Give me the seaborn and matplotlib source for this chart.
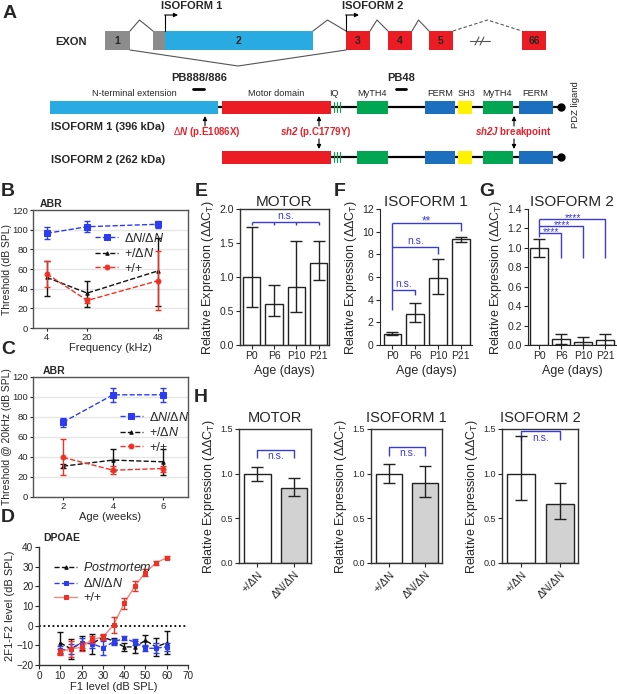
import numpy as np
import pandas as pd
import matplotlib
matplotlib.use("Agg")
import matplotlib.pyplot as plt
import seaborn as sns
from matplotlib.patches import Rectangle

sns.set_style("ticks")
plt.rcParams['font.family'] = ['Liberation Sans', 'DejaVu Sans']
plt.rcParams['mathtext.fontset'] = 'custom'
plt.rcParams['mathtext.rm'] = 'Liberation Sans'
plt.rcParams['mathtext.it'] = 'Liberation Sans:italic'
plt.rcParams['mathtext.bf'] = 'Liberation Sans:bold:italic'

# ---------------- data ----------------
# Panel B: ABR threshold vs frequency
b_freq = [4, 20, 48]
b_dn = [96.3, 103.0, 105.5]; b_dn_lo = [90.3, 97.4, 102.0]; b_dn_hi = [102.4, 108.9, 109.2]
b_het = [51.4, 35.5, 58.0]; b_het_lo = [32.8, 21.3, 22.6]; b_het_hi = [68.0, 48.0, 91.3]
b_wt = [55.0, 28.0, 48.0]; b_wt_lo = [41.2, 25.0, 18.6]; b_wt_hi = [68.3, 31.0, 78.8]

# Panel C: ABR threshold @20kHz vs age
c_age = [2, 4, 6]
c_dn = [74.8, 102.2, 102.2]; c_dn_lo = [70.4, 95.5, 95.5]; c_dn_hi = [78.8, 109.0, 109.0]
c_het = [30.8, 36.9, 35.2]; c_het_lo = [29.0, 26.0, 21.8]; c_het_hi = [33.0, 47.6, 48.0]
c_wt = [39.6, 26.8, 28.5]; c_wt_lo = [21.8, 22.8, 25.0]; c_wt_hi = [57.7, 30.8, 31.5]

# Panel D: DPOAE
d_f1 = [10, 15, 20, 25, 30, 35, 40, 45, 50, 55, 60]
d_pm = [-8.7, -11.8, -8.7, -9.2, -5.8, -7.8, -10.8, -10.8, -7.5, -10.8, -8.7]
d_pm_err = [5.3, 5.0, 3.5, 5.0, 1.2, 1.5, 2.1, 3.1, 2.7, 4.5, 5.8]
d_dn = [-12.5, -11.7, -8.7, -9.2, -11.2, -8.3, -6.5, -8.3, -11.5, -11.5, -10.7]
d_dn_err = [2.0, 2.5, 2.5, 2.0, 3.5, 1.5, 1.0, 1.5, 1.5, 2.5, 2.0]
d_wt = [-13.3, -11.8, -11.0, -7.0, -5.8, 0.3, 11.3, 20.1, 27.0, 31.9, 34.6]
d_wt_err = [1.5, 4.0, 2.0, 2.0, 1.5, 3.9, 3.0, 2.5, 1.7, 1.1, 0.85]

# Panels E-G: qPCR vs age
ages = ["P0", "P6", "P10", "P21"]
e_val = [1.0, 0.61, 0.86, 1.21]; e_lo = [0.56, 0.42, 0.48, 0.95]; e_hi = [1.73, 0.88, 1.53, 1.53]
f_val = [1.0, 2.73, 5.87, 9.33]; f_lo = [0.88, 1.99, 4.5, 9.13]; f_hi = [1.12, 3.7, 7.6, 9.54]
g_val = [1.0, 0.06, 0.035, 0.05]; g_lo = [0.91, 0.01, 0.0, 0.0]; g_hi = [1.09, 0.11, 0.08, 0.11]

# Panel H: qPCR by genotype
genos = ["+/\u0394N", "\u0394N/\u0394N"]
h_titles = ["MOTOR", "ISOFORM 1", "ISOFORM 2"]
h_val = [[1.0, 0.84], [1.0, 0.90], [1.0, 0.66]]
h_lo = [[0.92, 0.75], [0.89, 0.74], [0.70, 0.49]]
h_hi = [[1.08, 0.95], [1.11, 1.09], [1.42, 0.90]]

# Panel A schematic (gene / protein layout, drawn in pixel space)
exon_names = ["1", "", "2", "3", "4", "5", "66"]
exon_start = [105, 153, 165, 346, 388, 429, 522]
exon_end = [130, 165, 313, 370, 412, 453, 546]
dom_names = ["N-terminal extension", "Motor domain", "MyTH4", "FERM", "SH3", "MyTH4", "FERM"]
dom_start = [50, 222, 357, 425, 458, 483, 519]
dom_end = [218, 331, 388, 455, 472, 513, 553]

# ---------------- figure ----------------
W, H = 617, 694
fig = plt.figure(figsize=(W / 100, H / 100), dpi=100)
fig.patch.set_facecolor("white")

def add_ax(l, t, r, b):
    return fig.add_axes([l / W, 1 - b / H, (r - l) / W, (b - t) / H])

def ftext(x, y, s, **kw):
    fig.text(x / W, 1 - y / H, s, **kw)

BLUE = "#2b3cf2"
RED = "#ee3124"
BRK = "#3a3ad8"
LAB = dict(fontsize=14, fontweight="bold", va="center", ha="left")

# ================= Panel A =================
axA = add_ax(0, 0, W, 195)
axA.set_xlim(0, W); axA.set_ylim(195, 0); axA.axis("off")
ex_col = ["#8c8c8c", "#8c8c8c", "#29abe2", "#ec1c24", "#ec1c24", "#ec1c24", "#ec1c24"]
ey0, ey1 = 31, 50
for nm, s, e, c in zip(exon_names, exon_start, exon_end, ex_col):
    axA.add_patch(Rectangle((s, ey0), e - s, ey1 - ey0, facecolor=c, edgecolor="none"))
    if nm:
        axA.text((s + e) / 2, (ey0 + ey1) / 2 + 0.5, nm, ha="center", va="center", fontsize=7.5, fontweight="bold")
gl = dict(color="#555555", lw=0.8)
intr = [(exon_end[0], exon_start[1]), (exon_end[2], exon_start[3]), (exon_end[3], exon_start[4]), (exon_end[4], exon_start[5])]
for a, b in intr:
    axA.plot([a, (a + b) / 2 - 2, b], [ey0, 20, ey0], **gl)
axA.plot([exon_end[5], (exon_end[5] + exon_start[6]) / 2, exon_start[6]], [ey0, 20, ey0], color="#555555", lw=0.8, ls=(0, (3, 2)))
axA.plot([exon_end[0], 238, exon_start[3]], [ey1, 66, ey1], **gl)
axA.plot([470, 490], [41, 41], color="#555555", lw=0.8)
for xs in (477, 482):
    axA.plot([xs - 2, xs + 2], [45, 37], color="#555555", lw=0.8)
axA.text(55, 42, "EXON", fontsize=8, fontweight="bold", va="center")
# promoter arrows
for x0, lab in [(exon_start[2], "ISOFORM 1"), (exon_start[3], "ISOFORM 2")]:
    axA.plot([x0, x0], [ey0, 15], color="k", lw=0.8)
    axA.annotate("", xy=(x0 + 13, 15), xytext=(x0 - 0.4, 15),
                 arrowprops=dict(arrowstyle="-|>", lw=0.8, color="k", mutation_scale=6, shrinkA=0, shrinkB=0))
    axA.text(x0 - 4, 6, lab, fontsize=8, fontweight="bold", va="center", ha="left")

dom_col = ["#29abe2", "#ec1c24", "#00a651", "#1c6fbf", "#fff200", "#00a651", "#1c6fbf"]
rows = [(107.5, 0, "ISOFORM 1 (396 kDa)"), (157, 1, "ISOFORM 2 (262 kDa)")]
for yc, first, lab in rows:
    axA.plot([dom_end[0] if first == 0 else dom_end[1], 561], [yc, yc], color="k", lw=1.6, zorder=1)
    for nm, s, e, c in list(zip(dom_names, dom_start, dom_end, dom_col))[first:]:
        axA.add_patch(Rectangle((s, yc - 6.5), e - s, 13, facecolor=c, edgecolor="none", zorder=2))
    for xs in (333.5, 336.5, 339.5):
        axA.plot([xs, xs], [yc - 5, yc + 5], color="#00a651", lw=0.8, zorder=2)
    axA.plot([561], [yc], "o", color="k", ms=5, zorder=3)
    axA.text(51, yc + (20 if first == 0 else 3), lab, fontsize=8, fontweight="bold", va="center")
# domain labels
dl_x = [134, 276, 334, 372, 440, 466, 497, 535]
dl_t = ["N-terminal extension", "Motor domain", "IQ", "MyTH4", "FERM", "SH3", "MyTH4", "FERM"]
for x, t in zip(dl_x, dl_t):
    axA.text(x, 93, t, fontsize=6.6, ha="center", va="center")
axA.text(199, 78, "PB888/886", fontsize=8, fontweight="bold", ha="center", va="center")
axA.plot([193, 204], [89, 89], color="k", lw=2)
axA.text(401, 78, "PB48", fontsize=8, fontweight="bold", ha="center", va="center")
axA.plot([396, 406], [89, 89], color="k", lw=2)
axA.text(576, 105, "PDZ ligand", fontsize=6.8, rotation=90, ha="center", va="center")
ap = dict(arrowstyle="-|>", lw=0.8, color="k", mutation_scale=6, shrinkA=0, shrinkB=0)
for x in (205, 319, 514):
    axA.annotate("", xy=(x, 116), xytext=(x, 126), arrowprops=ap)
for x in (319, 514):
    axA.annotate("", xy=(x, 149), xytext=(x, 139), arrowprops=ap)
RC = "#e8202a"
axA.text(207, 132, r"$\Delta\mathbf{N}$ (p.E1086X)", color=RC, fontsize=7, fontweight="bold", ha="center", va="center")
axA.text(316, 132, r"$\mathbf{sh2}$ (p.C1779Y)", color=RC, fontsize=7, fontweight="bold", ha="center", va="center")
axA.text(513, 132, r"$\mathbf{sh2J}$ breakpoint", color=RC, fontsize=7, fontweight="bold", ha="center", va="center")
ftext(3, 14, "A", **LAB)

# ================= helpers =================
def style_ticks(ax, fs, length=3, pad=1.5):
    ax.tick_params(axis="both", labelsize=fs, length=length, width=0.8, pad=pad, direction="out")

def err(v, lo, hi):
    v, lo, hi = map(np.asarray, (v, lo, hi))
    return [v - lo, hi - v]

def line_panel(ax, x, series, ls_list):
    for (m, lo, hi, col, mk, ms, lab), ls in zip(series, ls_list):
        df = pd.DataFrame({"x": x, "y": m})
        sns.lineplot(data=df, x="x", y="y", ax=ax, color=col, marker=mk, markersize=ms,
                     linestyle=ls, lw=1.0, label=lab, markeredgecolor=col)
        ax.errorbar(x, m, yerr=err(m, lo, hi), fmt="none", ecolor=col, elinewidth=1, capsize=2.5, capthick=1)

def box_spines(ax, col="#555555"):
    for s in ax.spines.values():
        s.set_visible(True); s.set_color(col); s.set_linewidth(1)

# ================= Panel B =================
axB = add_ax(33, 210, 188, 328)
line_panel(axB, b_freq, [
    (b_dn, b_dn_lo, b_dn_hi, BLUE, "s", 4, r"$\Delta N/\Delta N$"),
    (b_het, b_het_lo, b_het_hi, "#111111", "^", 2.5, r"+/$\Delta N$"),
    (b_wt, b_wt_lo, b_wt_hi, RED, "o", 3.5, "+/+")], ["--", "--", "--"])
axB.set_xlim(-1.5, 60); axB.set_ylim(0, 120)
axB.set_xticks(b_freq); axB.set_yticks(range(0, 121, 20))
axB.yaxis.grid(True, color="#e6e6e6", lw=1); axB.set_axisbelow(True)
box_spines(axB); style_ticks(axB, 6.8, length=2.5, pad=1)
axB.set_xlabel("Frequency (kHz)", fontsize=8, labelpad=1)
axB.set_ylabel("Threshold (dB SPL)", fontsize=7.5, labelpad=0.5)
axB.legend(loc="upper left", bbox_to_anchor=(0.37, 0.86), frameon=False, fontsize=9,
           handlelength=1.8, labelspacing=0.2, borderaxespad=0, handletextpad=0.5)
ftext(40, 204, "ABR", fontsize=7.5, fontweight="bold", va="center")
ftext(1, 192, "B", **LAB)

# ================= Panel C =================
axC = add_ax(33, 377, 188, 497)
line_panel(axC, c_age, [
    (c_dn, c_dn_lo, c_dn_hi, BLUE, "s", 4, r"$\Delta N/\Delta N$"),
    (c_het, c_het_lo, c_het_hi, "#111111", "^", 2.5, r"+/$\Delta N$"),
    (c_wt, c_wt_lo, c_wt_hi, RED, "o", 3.5, "+/+")], ["--", "--", "--"])
axC.set_xlim(0.8, 7); axC.set_ylim(0, 120)
axC.set_xticks(c_age); axC.set_yticks(range(0, 121, 20))
axC.yaxis.grid(True, color="#e6e6e6", lw=1); axC.set_axisbelow(True)
box_spines(axC); style_ticks(axC, 6.8, length=2.5, pad=1)
axC.set_xlabel("Age (weeks)", fontsize=8, labelpad=1)
axC.set_ylabel("Threshold @ 20kHz (dB SPL)", fontsize=7.5, labelpad=0.5)
axC.legend(loc="upper left", bbox_to_anchor=(0.53, 0.76), frameon=False, fontsize=9,
           handlelength=1.8, labelspacing=0.2, borderaxespad=0, handletextpad=0.5)
ftext(43, 371, "ABR", fontsize=7.5, fontweight="bold", va="center")
ftext(1, 350, "C", **LAB)

# ================= Panel D =================
axD = add_ax(39, 547, 188, 665)
axD.axhline(0, color="k", lw=1.3, ls=(0, (1, 1.5)))
for m, e, col, mk, ms, ls, lab, lc in [
        (d_pm, d_pm_err, "#111111", "^", 2.5, "--", r"$\mathit{Postmortem}$", "#111111"),
        (d_dn, d_dn_err, BLUE, "s", 3.5, "--", r"$\Delta N/\Delta N$", BLUE),
        (d_wt, d_wt_err, RED, "s", 3.5, "-", "+/+", "#f28a80")]:
    df = pd.DataFrame({"x": d_f1, "y": m})
    sns.lineplot(data=df, x="x", y="y", ax=axD, color=lc, linestyle=ls, lw=1.0, marker=mk,
                 markersize=ms, markerfacecolor=col, markeredgecolor=col, label=lab)
    axD.errorbar(d_f1, m, yerr=e, fmt="none", ecolor=col, elinewidth=1, capsize=2.5, capthick=1)
axD.set_xlim(0, 70); axD.set_ylim(-20, 40)
axD.set_xticks(range(0, 71, 10)); axD.set_yticks(range(-20, 41, 10))
sns.despine(ax=axD)
for s in ("left", "bottom"):
    axD.spines[s].set_color("#333333"); axD.spines[s].set_linewidth(1)
style_ticks(axD, 7.2, length=3, pad=1)
axD.set_xlabel("F1 level (dB SPL)", fontsize=8, labelpad=1)
axD.set_ylabel("2F1-F2 level (dB SPL)", fontsize=8, labelpad=1)
axD.legend(loc="upper left", bbox_to_anchor=(0.07, 0.92), frameon=False, fontsize=9,
           handlelength=1.8, labelspacing=0.2, borderaxespad=0, handletextpad=0.5)
ftext(43, 538, "DPOAE", fontsize=7.5, fontweight="bold", va="center")
ftext(1, 518, "D", **LAB)

# ================= Panels E-H =================
YL = r"Relative Expression ($\Delta\Delta$C$_\mathrm{T}$)"

def bar_panel(ax, cats, vals, lo, hi, colors, width):
    df = pd.DataFrame({"cat": cats, "val": vals})
    sns.barplot(data=df, x="cat", y="val", hue="cat", palette=dict(zip(cats, colors)), legend=False,
                ax=ax, width=width, edgecolor="#222222", linewidth=1.0, errorbar=None, saturation=1)
    ax.errorbar(np.arange(len(cats)), vals, yerr=err(vals, lo, hi), fmt="none", ecolor="#222222",
                elinewidth=1, capsize=4, capthick=1, zorder=5)

def brk(ax, xs, ys, **kw):
    ax.plot(xs, ys, color=BRK, lw=1.0, solid_capstyle="butt", clip_on=False, **kw)

# E
axE = add_ax(240, 209, 329, 345)
bar_panel(axE, ages, e_val, e_lo, e_hi, ["white"] * 4, 0.78)
axE.set_xlim(-0.52, 3.46); axE.set_ylim(0, 2.0); axE.set_yticks(np.arange(0, 2.01, 0.5))
axE.yaxis.set_major_formatter(matplotlib.ticker.FormatStrFormatter("%.1f"))
box_spines(axE, "#333333"); style_ticks(axE, 7.5)
brk(axE, [0, 3], [1.81, 1.81])
for i in range(4):
    brk(axE, [i, i], [1.81, 1.76])
axE.text(1.5, 1.82, "n.s.", color=BRK, fontsize=7.5, ha="center", va="bottom")

# F
axF = add_ax(380, 209, 472, 345)
bar_panel(axF, ages, f_val, f_lo, f_hi, ["white"] * 4, 0.78)
axF.set_xlim(-0.55, 3.5); axF.set_ylim(0, 12); axF.set_yticks(range(0, 13, 2))
sns.despine(ax=axF); style_ticks(axF, 7.5)
brk(axF, [0, 0], [3.11, 10.76])
brk(axF, [0, 3, 3], [10.76, 10.76, 10.07])
axF.text(1.5, 10.76 - 0.15, "**", color=BRK, fontsize=8.5, ha="center", va="baseline")
for xe, yl, yb in [(2, 8.65, 8.06), (1, 4.89, 4.44)]:
    brk(axF, [0, xe, xe], [yl, yl, yb])
    axF.text(xe / 2, yl + 0.05, "n.s.", color=BRK, fontsize=7.5, ha="center", va="bottom")

# G
axG = add_ax(528, 209, 616, 345)
bar_panel(axG, ages, g_val, g_lo, g_hi, ["white"] * 4, 0.78)
axG.set_xlim(-0.5, 3.5); axG.set_ylim(0, 1.4); axG.set_yticks(np.arange(0, 1.41, 0.2))
axG.yaxis.set_major_formatter(matplotlib.ticker.FormatStrFormatter("%.1f"))
sns.despine(ax=axG); style_ticks(axG, 7.5)
brk(axG, [0, 0], [1.11, 1.30])
for xe, yl in [(3, 1.30), (2, 1.227), (1, 1.148)]:
    brk(axG, [0, xe, xe], [yl, yl, 0.9])
    axG.text(xe / 2 + 0.05, yl - 0.02, "****", color=BRK, fontsize=7.5, ha="center", va="baseline")

for ax, t in [(axE, "MOTOR"), (axF, "ISOFORM 1"), (axG, "ISOFORM 2")]:
    ax.set_title(t, fontsize=11, pad=2.5)
    ax.set_xlabel("Age (days)", fontsize=9, labelpad=3)
    ax.set_ylabel(YL, fontsize=9, labelpad=2)
ftext(195, 192, "E", **LAB)
ftext(334, 192, "F", **LAB)
ftext(479, 192, "G", **LAB)

# H
h_boxes = [(239, 311), (371, 442), (502, 578)]
h_br = [(1.27, 1.17), (1.30, 1.20), (1.475, 1.38)]
for k, ((l, r), t) in enumerate(zip(h_boxes, h_titles)):
    ax = add_ax(l, 429, r, 563)
    bar_panel(ax, genos, h_val[k], h_lo[k], h_hi[k], ["white", "#d2d2d2"], 0.72)
    ax.set_xlim(-0.5, 1.46); ax.set_ylim(0, 1.5); ax.set_yticks([0, 0.5, 1.0, 1.5])
    ax.yaxis.set_major_formatter(matplotlib.ticker.FormatStrFormatter("%.1f"))
    box_spines(ax, "#333333"); style_ticks(ax, 6.5)
    ax.tick_params(axis="x", labelsize=8)
    for lbl in ax.get_xticklabels():
        lbl.set_rotation(45); lbl.set_ha("right"); lbl.set_rotation_mode("anchor")
    yl, yb = h_br[k]
    brk(ax, [0, 0, 1, 1], [yb, yl, yl, yb])
    ax.text(0.5, yl - 0.015, "n.s.", color=BRK, fontsize=7.5, ha="center", va="top")
    ax.set_title(t, fontsize=10.5, pad=5)
    ax.set_xlabel("")
    ax.set_ylabel(YL, fontsize=9, labelpad=2)
ftext(194, 398, "H", **LAB)

fig.savefig("out.png", dpi=100, facecolor="white")
